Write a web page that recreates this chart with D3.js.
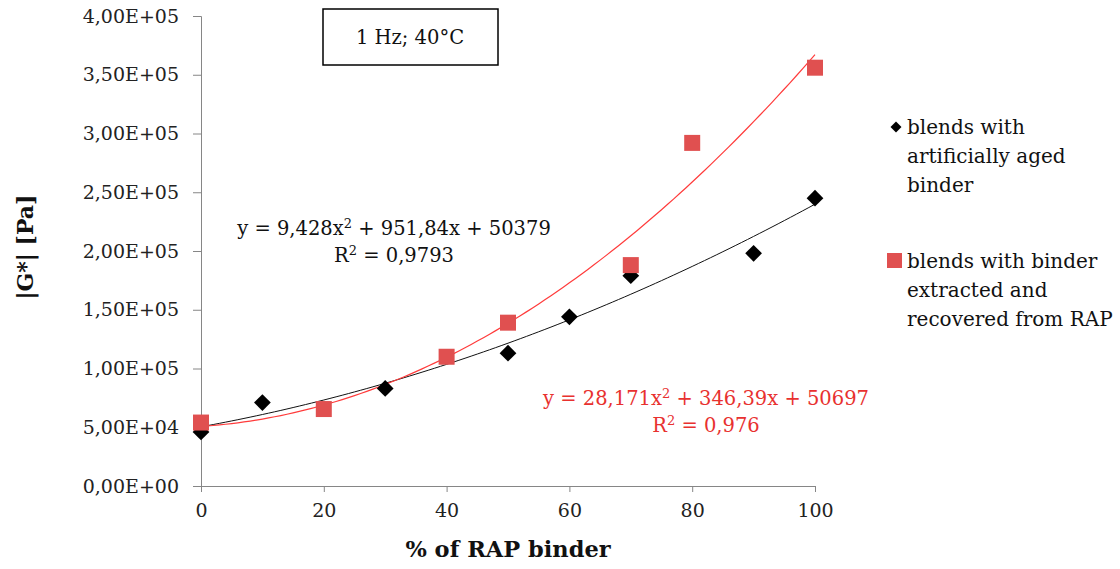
<!DOCTYPE html>
<html>
<head>
<meta charset="utf-8"/>
<script src="https://d3js.org/d3.v7.min.js"></script>
<style>
  body { margin: 0; background: white; }
  svg text { font-family: "DejaVu Serif", serif; }
</style>
</head>
<body>
<svg id="chart" width="1120" height="569"></svg>
<script>
// % of RAP binder
var agedX = [0, 10, 30, 50, 60, 70, 90, 100];
var agedY = [46000, 71000, 83000, 113000, 144000, 179000, 198000, 245000];
var rapX = [0, 20, 40, 50, 70, 80, 100];
var rapY = [54000, 65500, 110000, 139000, 188000, 292000, 356000];

// trendline coefficients as printed on the chart (a*x^2 + b*x + c)
var agedFit = [9.428, 951.84, 50379];
var rapFit = [28.171, 346.39, 50697];

var xTicks = [0, 20, 40, 60, 80, 100];
var yTicks = [0, 50000, 100000, 150000, 200000, 250000, 300000, 350000, 400000];

var legendAged = ["blends with", "artificially aged", "binder"];
var legendRap = ["blends with binder", "extracted and", "recovered from RAP"];

var svg = d3.select("#chart");
var x = d3.scaleLinear([0, 100], [201, 815]);
var y = d3.scaleLinear([0, 400000], [486, 16]);

function sci(v) {
    var s = v.toExponential(2).split("e");
    var e = parseInt(s[1]);
    return s[0].replace(".", ",") + "E" + (e < 0 ? "-" : "+") + (Math.abs(e) < 10 ? "0" : "") + Math.abs(e);
}

var gy = svg.append("g").attr("transform", "translate(201,0)")
    .call(d3.axisLeft(y).tickValues(yTicks).tickFormat(sci).tickSize(8).tickPadding(14));
var gx = svg.append("g").attr("transform", "translate(0,486)")
    .call(d3.axisBottom(x).tickValues(xTicks).tickSize(6).tickPadding(12));
[gx, gy].forEach(function(g) {
    g.select(".domain").attr("stroke", "#868686");
    g.selectAll(".tick line").attr("stroke", "#868686");
    g.selectAll(".tick text").attr("font-family", "DejaVu Serif").attr("font-size", 19).attr("fill", "#222");
});

// trendlines
function curve(c) {
    return d3.range(0, 100.5, 1).map(function(v) { return [v, c[0]*v*v + c[1]*v + c[2]]; });
}
var line = d3.line().x(d => x(d[0])).y(d => y(d[1]));
svg.append("path").attr("d", line(curve(agedFit))).attr("fill", "none").attr("stroke", "#111").attr("stroke-width", 1);
svg.append("path").attr("d", line(curve(rapFit))).attr("fill", "none").attr("stroke", "#ff3b3b").attr("stroke-width", 1.2);

// markers
var diamond = d3.symbol().type(d3.symbolSquare).size(140);
svg.selectAll(".aged").data(agedX).enter().append("path")
    .attr("d", diamond)
    .attr("transform", (d, i) => "translate(" + x(d) + "," + y(agedY[i]) + ") rotate(45)")
    .attr("fill", "black");
svg.selectAll(".rap").data(rapX).enter().append("rect")
    .attr("x", d => x(d) - 8).attr("y", (d, i) => y(rapY[i]) - 8)
    .attr("width", 16).attr("height", 16)
    .attr("fill", "#e05050");

// equations
function eq(cx, cy, col, c, r2) {
    var t = svg.append("text").attr("x", cx).attr("y", cy).attr("text-anchor", "middle")
        .attr("font-size", 19.5).attr("fill", col);
    t.append("tspan").text("y = " + String(c[0]).replace(".", ",") + "x");
    t.append("tspan").attr("dy", -7).attr("font-size", 13).text("2");
    t.append("tspan").attr("dy", 7).text(" + " + String(c[1]).replace(".", ",") + "x + " + c[2]);
    var t2 = svg.append("text").attr("x", cx).attr("y", cy + 27).attr("text-anchor", "middle")
        .attr("font-size", 19.5).attr("fill", col);
    t2.append("tspan").text("R");
    t2.append("tspan").attr("dy", -7).attr("font-size", 13).text("2");
    t2.append("tspan").attr("dy", 7).text(" = " + r2);
}
eq(394, 235, "#111", agedFit, "0,9793");
eq(706, 405, "#e8312f", rapFit, "0,976");

// condition box
svg.append("rect").attr("x", 323).attr("y", 9).attr("width", 175).attr("height", 56)
    .attr("fill", "white").attr("stroke", "black").attr("stroke-width", 1.5);
svg.append("text").attr("x", 410).attr("y", 44).attr("text-anchor", "middle")
    .attr("font-size", 19.5).attr("fill", "#111").text("1 Hz; 40°C");

// axis titles
svg.append("text").attr("x", 508).attr("y", 557).attr("text-anchor", "middle")
    .attr("font-size", 22.5).attr("font-weight", "bold").attr("fill", "#111").text("% of RAP binder");
svg.append("text").attr("transform", "translate(33,247) rotate(-90)").attr("text-anchor", "middle")
    .attr("font-family", "Liberation Sans").attr("font-size", 22).attr("font-weight", "bold")
    .attr("fill", "#111").text("|G*| [Pa]");

// legend
svg.append("path").attr("d", d3.symbol().type(d3.symbolSquare).size(60))
    .attr("transform", "translate(896,127) rotate(45)").attr("fill", "black");
legendAged.forEach(function(s, i) {
    svg.append("text").attr("x", 907).attr("y", 134 + i * 29).attr("font-size", 20).attr("fill", "#111").text(s);
});
svg.append("rect").attr("x", 887).attr("y", 253).attr("width", 15).attr("height", 15).attr("fill", "#e05050");
legendRap.forEach(function(s, i) {
    svg.append("text").attr("x", 907).attr("y", 268 + i * 29).attr("font-size", 20).attr("fill", "#111").text(s);
});
</script>
</body>
</html>
